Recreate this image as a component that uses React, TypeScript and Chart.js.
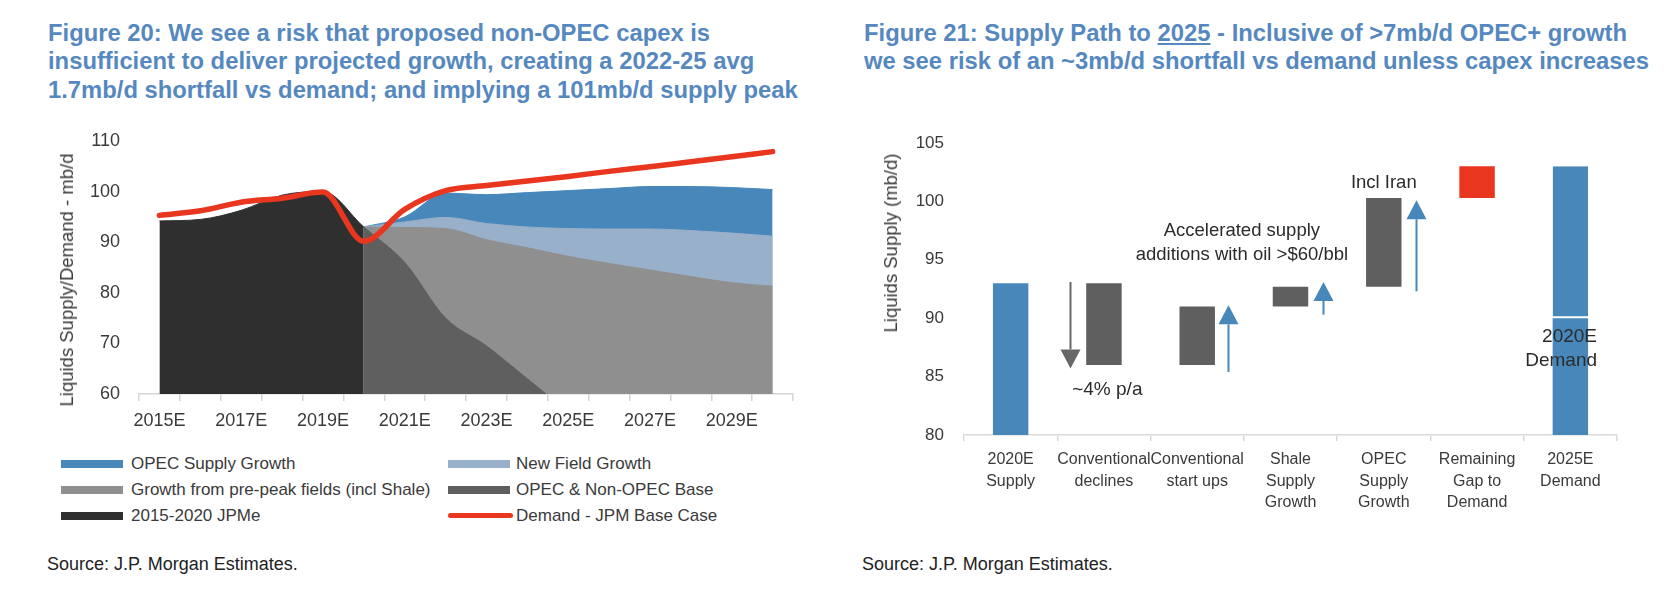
import React, { useEffect, useRef } from 'react';
import { Chart, registerables } from 'chart.js';

Chart.register(...registerables);

const FONT = '"Liberation Sans", Arial, Helvetica, sans-serif';
const TEXT = '#3a3a3a';
const TITLE_BLUE = '#5688c0';

// ---------- Figure 20 data ----------
const years = ['2015E', '2016E', '2017E', '2018E', '2019E', '2020E', '2021E', '2022E',
  '2023E', '2024E', '2025E', '2026E', '2027E', '2028E', '2029E', '2030E'];
const jpmeHistory = [94.2, 94.5, 96.3, 99.3, 100.0, 93.0, null, null, null, null, null, null, null, null, null, null];
const baseLevel = [null, null, null, null, null, 93.0, 86.0, 75.0, 69.5, 63.0, 56.5, null, null, null, null, null];
const prePeakLevel = [null, null, null, null, null, 93.0, 92.9, 92.7, 90.5, 88.9, 87.2, 85.8, 84.5, 83.2, 82.0, 81.3];
const newFieldLevel = [null, null, null, null, null, 93.0, 94.0, 94.9, 93.7, 93.0, 92.7, 92.6, 92.6, 92.3, 91.8, 91.2];
const opecLevel = [null, null, null, null, null, 93.0, 95.0, 99.7, 99.4, 99.8, 100.2, 100.6, 101.0, 101.0, 100.8, 100.4];
const demandBase = [95.3, 96.2, 97.9, 98.7, 99.9, 90.2, 96.5, 100.2, 101.2, 102.1, 103.0, 104.0, 104.9, 105.9, 106.9, 107.9];

// ---------- Figure 21 data ----------
const steps = [['2020E', 'Supply'], ['Conventional', 'declines'], ['Conventional', 'start ups'],
  ['Shale', 'Supply', 'Growth'], ['OPEC', 'Supply', 'Growth'], ['Remaining', 'Gap to', 'Demand'], ['2025E', 'Demand']];
const stepLow = [80, 86, 86, 91, 92.7, 100.3, 80];
const stepHigh = [93, 93, 91, 92.7, 100.3, 103, 90];
const demandGrowth = [null, null, null, null, null, null, [90, 103]];
const arrowStep = [1, 2, 3, 4];
const arrowFrom = [93.1, 85.4, 90.3, 92.3];
const arrowTo = [85.7, 91.1, 93.1, 100.1];
const noteText = [['~4% p/a'], ['Accelerated supply', 'additions with oil >$60/bbl'], ['Incl Iran'], ['2020E', 'Demand']];
const noteStep = [1, 2, 4, 6];
const noteValue = [83.9, 97.5, 101.6, 88.4];

const C_OPEC = '#4787ba';
const C_NEW = '#98b0c9';
const C_PRE = '#8f8f8f';
const C_BASE = '#5f5f5f';
const C_HIST = '#2f2f2f';
const C_RED = '#e8361f';

function area(label: string, data: (number | null)[], color: string) {
  return {
    label, data, backgroundColor: color, borderColor: color, borderWidth: 1,
    fill: 'start', pointRadius: 0, cubicInterpolationMode: 'monotone',
  };
}

// invisible tick marks give the gap between the y labels and the plot
const hiddenYGrid = (gap: number) => ({
  display: true, drawOnChartArea: false, drawTicks: true, tickLength: gap, color: 'rgba(0,0,0,0)',
});

function Figure20() {
  const ref = useRef<HTMLCanvasElement>(null);
  useEffect(() => {
    const chart = new Chart(ref.current!, {
      type: 'line',
      data: {
        labels: years,
        datasets: [
          {
            label: 'Demand - JPM Base Case', data: demandBase, borderColor: C_RED, borderWidth: 5.5,
            fill: false, pointRadius: 0, cubicInterpolationMode: 'monotone',
            borderCapStyle: 'round', borderJoinStyle: 'round',
          },
          area('2015-2020 JPMe', jpmeHistory, C_HIST),
          area('OPEC & Non-OPEC Base', baseLevel, C_BASE),
          area('Growth from pre-peak fields (incl Shale)', prePeakLevel, C_PRE),
          area('New Field Growth', newFieldLevel, C_NEW),
          area('OPEC Supply Growth', opecLevel, C_OPEC),
        ] as any,
      },
      options: {
        responsive: false,
        animation: false,
        devicePixelRatio: 1,
        layout: { padding: { top: 21, right: 41, bottom: 0, left: 0 } },
        plugins: { legend: { display: false }, tooltip: { enabled: false } },
        scales: {
          x: {
            offset: true,
            grid: { display: true, offset: true, drawOnChartArea: false, drawTicks: true, tickLength: 7, color: '#d4d4d4', lineWidth: 1.5 },
            border: { display: true, color: '#d4d4d4', width: 1.5 },
            ticks: {
              autoSkip: false, maxRotation: 0, minRotation: 0, padding: 9, color: TEXT,
              font: { family: FONT, size: 18 },
              callback: (_v: any, i: number) => (i % 2 === 0 ? years[i] : ''),
            },
            afterFit: (s: any) => { s.height = 46; },
          },
          y: {
            min: 60, max: 110,
            ticks: { stepSize: 10, padding: 0, color: TEXT, font: { family: FONT, size: 18 } },
            grid: hiddenYGrid(19),
            border: { display: false },
            afterFit: (s: any) => { s.width = 139; },
          },
        },
      } as any,
    });
    return () => chart.destroy();
  }, []);
  return <canvas ref={ref} width={834} height={320} style={{ position: 'absolute', left: 0, top: 120, width: 834, height: 320 }} />;
}

const notesPlugin = {
  id: 'supplyNotes',
  afterDatasetsDraw(chart: any) {
    const { ctx } = chart;
    const x = chart.scales.x;
    const y = chart.scales.y;
    const slot = x.getPixelForValue(1) - x.getPixelForValue(0);
    const arrowSide = [-0.365, 0.33, 0.346, 0.345];
    const arrowColor = ['#676767', C_OPEC, C_OPEC, C_OPEC];
    ctx.save();
    arrowStep.forEach((s, i) => {
      const px = Math.round(x.getPixelForValue(s) + arrowSide[i] * slot) + 0.5;
      const y0 = y.getPixelForValue(arrowFrom[i]);
      const y1 = y.getPixelForValue(arrowTo[i]);
      const dir = Math.sign(y1 - y0);
      const head = 19;
      const hw = 10;
      ctx.strokeStyle = arrowColor[i];
      ctx.fillStyle = arrowColor[i];
      ctx.lineWidth = 2;
      ctx.beginPath();
      ctx.moveTo(px, y0);
      ctx.lineTo(px, y1 - dir * head);
      ctx.stroke();
      ctx.beginPath();
      ctx.moveTo(px, y1);
      ctx.lineTo(px - hw, y1 - dir * head);
      ctx.lineTo(px + hw, y1 - dir * head);
      ctx.closePath();
      ctx.fill();
    });
    const noteShift = [-0.34, 0.479, 0, 0.286];
    const noteAlign = ['left', 'center', 'center', 'right'];
    const noteSize = [19, 18.5, 18.5, 19];
    ctx.fillStyle = '#2b2b2b';
    ctx.textBaseline = 'middle';
    noteText.forEach((lines, i) => {
      const px = x.getPixelForValue(noteStep[i]) + noteShift[i] * slot;
      const py = y.getPixelForValue(noteValue[i]);
      ctx.font = `${noteSize[i]}px ${FONT}`;
      ctx.textAlign = noteAlign[i];
      lines.forEach((t, j) => ctx.fillText(t, px, py + j * 24));
    });
    ctx.restore();
  },
};

function Figure21() {
  const ref = useRef<HTMLCanvasElement>(null);
  useEffect(() => {
    const chart = new Chart(ref.current!, {
      type: 'bar',
      data: {
        labels: steps,
        datasets: [
          {
            label: 'Supply path',
            data: stepLow.map((l, i) => [l, stepHigh[i]]),
            backgroundColor: [C_OPEC, C_BASE, C_BASE, C_BASE, C_BASE, C_RED, C_OPEC],
            borderWidth: 0, grouped: false, barPercentage: 0.38, categoryPercentage: 1,
          },
          {
            label: '2025E demand above 2020E',
            data: demandGrowth,
            backgroundColor: C_OPEC, borderColor: '#ffffff',
            borderWidth: { top: 0, right: 0, bottom: 2, left: 0 }, borderSkipped: false,
            grouped: false, barPercentage: 0.38, categoryPercentage: 1,
          },
        ] as any,
      },
      options: {
        responsive: false,
        animation: false,
        devicePixelRatio: 1,
        layout: { padding: { top: 23, right: 51, bottom: 0, left: 0 } },
        plugins: { legend: { display: false }, tooltip: { enabled: false } },
        scales: {
          x: {
            grid: { display: true, offset: true, drawOnChartArea: false, drawTicks: true, tickLength: 6, color: '#d9d9d9', lineWidth: 1.5 },
            border: { display: true, color: '#d9d9d9', width: 1.5 },
            ticks: {
              autoSkip: false, maxRotation: 0, minRotation: 0, padding: 8, color: TEXT,
              font: { family: FONT, size: 16, lineHeight: 1.34 },
            },
            afterFit: (s: any) => { s.height = 105; },
          },
          y: {
            min: 80, max: 105,
            ticks: { stepSize: 5, padding: 0, color: TEXT, font: { family: FONT, size: 17 } },
            grid: hiddenYGrid(20),
            border: { display: false },
            afterFit: (s: any) => { s.width = 130; },
          },
        },
      } as any,
      plugins: [notesPlugin],
    });
    return () => chart.destroy();
  }, []);
  return <canvas ref={ref} width={834} height={420} style={{ position: 'absolute', left: 834, top: 120, width: 834, height: 420 }} />;
}

const titleStyle: React.CSSProperties = {
  position: 'absolute', top: 19, fontFamily: FONT, fontWeight: 'bold', fontSize: 23.8,
  lineHeight: '28.3px', color: TITLE_BLUE, whiteSpace: 'nowrap', margin: 0,
};

function VTitle({ text, cx, cy }: { text: string; cx: number; cy: number }) {
  return (
    <div style={{
      position: 'absolute', left: cx, top: cy, transform: 'translate(-50%, -50%) rotate(-90deg)',
      fontFamily: FONT, fontSize: 18.5, color: TEXT, whiteSpace: 'nowrap', lineHeight: '20px',
    }}>{text}</div>
  );
}

const legendItems = [
  { label: 'OPEC Supply Growth', color: C_OPEC, line: false },
  { label: 'New Field Growth', color: C_NEW, line: false },
  { label: 'Growth from pre-peak fields (incl Shale)', color: C_PRE, line: false },
  { label: 'OPEC & Non-OPEC Base', color: C_BASE, line: false },
  { label: '2015-2020 JPMe', color: C_HIST, line: false },
  { label: 'Demand - JPM Base Case', color: C_RED, line: true },
];

function Legend() {
  const rowY = [463.5, 489.5, 515.5];
  const colSwatch = [61, 448];
  const colText = [131, 516];
  return (
    <>
      {legendItems.map((it, i) => {
        const r = Math.floor(i / 2);
        const c = i % 2;
        return (
          <React.Fragment key={it.label}>
            <div style={{
              position: 'absolute', left: colSwatch[c], top: rowY[r] - (it.line ? 2.75 : 4),
              width: it.line ? 65 : 62, height: it.line ? 5.5 : 8, background: it.color,
              borderRadius: it.line ? 3 : 0,
            }} />
            <div style={{
              position: 'absolute', left: colText[c], top: rowY[r] - 10, height: 20, lineHeight: '20px',
              fontFamily: FONT, fontSize: 17, color: TEXT, whiteSpace: 'nowrap',
            }}>{it.label}</div>
          </React.Fragment>
        );
      })}
    </>
  );
}

export default function App() {
  return (
    <div style={{ position: 'absolute', left: 0, top: 0, width: 1668, height: 592, background: '#ffffff', overflow: 'hidden' }}>
      <div style={{ ...titleStyle, left: 48 }}>
        Figure 20: We see a risk that proposed non-OPEC capex is<br />
        insufficient to deliver projected growth, creating a 2022-25 avg<br />
        1.7mb/d shortfall vs demand; and implying a 101mb/d supply peak
      </div>
      <div style={{ ...titleStyle, left: 864 }}>
        Figure 21: Supply Path to <span style={{ textDecoration: 'underline' }}>2025</span> - Inclusive of &gt;7mb/d OPEC+ growth<br />
        we see risk of an ~3mb/d shortfall vs demand unless capex increases
      </div>
      <Figure20 />
      <Figure21 />
      <VTitle text="Liquids Supply/Demand - mb/d" cx={67} cy={279.5} />
      <VTitle text="Liquids Supply (mb/d)" cx={890.7} cy={243} />
      <Legend />
      <div style={{ position: 'absolute', left: 47, top: 554, lineHeight: '20px', fontFamily: FONT, fontSize: 18, color: '#222', whiteSpace: 'nowrap' }}>
        Source: J.P. Morgan Estimates.
      </div>
      <div style={{ position: 'absolute', left: 862, top: 554, lineHeight: '20px', fontFamily: FONT, fontSize: 18, color: '#222', whiteSpace: 'nowrap' }}>
        Source: J.P. Morgan Estimates.
      </div>
    </div>
  );
}
